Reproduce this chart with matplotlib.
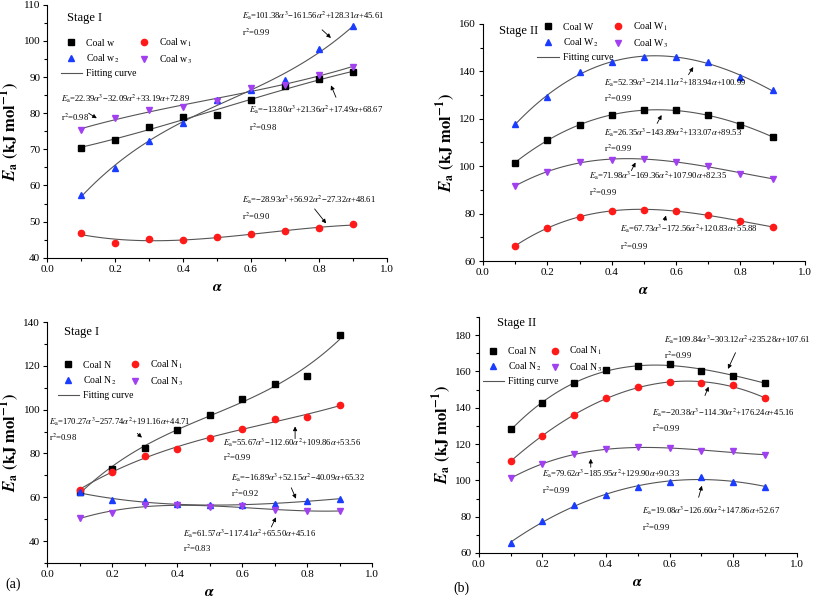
import numpy as np
import matplotlib
matplotlib.use('Agg')
import matplotlib.pyplot as plt
from matplotlib.ticker import MultipleLocator, FormatStrFormatter
from matplotlib.lines import Line2D

plt.rcParams['font.family'] = ['Liberation Serif', 'DejaVu Serif']
plt.rcParams['mathtext.fontset'] = 'stix'

# conversion degree
alpha = [0.1, 0.2, 0.3, 0.4, 0.5, 0.6, 0.7, 0.8, 0.9]

# Stage I, coal w series
w_s1 = [70.5, 72.6, 76.2, 78.9, 79.4, 83.6, 87.5, 89.4, 91.3]
w1_s1 = [46.8, 44.2, 45.2, 45.0, 45.7, 46.5, 47.4, 48.2, 49.2]
w2_s1 = [57.3, 64.9, 72.3, 77.4, 83.6, 86.5, 89.3, 97.8, 104.0]
w3_s1 = [75.4, 78.6, 81.0, 81.6, 83.3, 86.9, 87.9, 90.5, 92.8]

# Stage II, coal W series
w_s2 = [101.5, 111.1, 117.2, 121.5, 123.9, 123.5, 121.4, 117.5, 112.4]
w1_s2 = [66.3, 74.0, 78.7, 81.1, 81.5, 81.3, 79.3, 76.8, 74.4]
w2_s2 = [117.9, 129.0, 139.6, 143.9, 146.1, 146.1, 143.9, 137.5, 132.0]
w3_s2 = [91.7, 97.5, 101.8, 102.5, 103.2, 101.8, 99.9, 96.9, 94.8]

# Stage I, coal N series
n_s1 = [62.6, 72.9, 82.7, 90.9, 97.7, 105.0, 111.9, 115.4, 134.1]
n1_s1 = [63.5, 71.5, 78.9, 82.1, 86.9, 91.0, 95.9, 96.7, 102.1]
n2_s1 = [62.3, 58.7, 58.2, 57.0, 56.4, 56.7, 57.0, 58.2, 59.4]
n3_s1 = [50.6, 52.9, 56.5, 56.4, 55.6, 55.8, 54.2, 53.8, 53.8]

# Stage II, coal N series
n_s2 = [128.1, 142.4, 153.4, 160.8, 162.8, 164.2, 160.4, 157.6, 153.8]
n1_s2 = [110.6, 124.5, 135.8, 145.4, 151.3, 154.1, 153.5, 152.3, 145.2]
n2_s2 = [65.5, 77.6, 86.2, 91.7, 96.6, 99.2, 101.6, 99.2, 96.5]
n3_s2 = [101.2, 108.9, 114.4, 117.0, 118.3, 117.9, 115.9, 116.1, 113.9]

# fitted equations printed on the chart
eq_w_s1 = ['$E_{\\rm a}$=22.39$\\alpha^3$\u221232.09$\\alpha^2$+33.19$\\alpha$+72.89',
           '$E_{\\rm a}$=\u221213.80$\\alpha^3$+21.36$\\alpha^2$+17.49$\\alpha$+68.67',
           '$E_{\\rm a}$=101.38$\\alpha^3$\u2212161.56$\\alpha^2$+128.31$\\alpha$+45.61',
           '$E_{\\rm a}$=\u221228.93$\\alpha^3$+56.92$\\alpha^2$\u221227.32$\\alpha$+48.61']
r2_w_s1 = ['0.98', '0.98', '0.99', '0.90']
eq_w_s2 = ['$E_{\\rm a}$=52.39$\\alpha^3$\u2212214.11$\\alpha^2$+183.94$\\alpha$+100.99',
           '$E_{\\rm a}$=26.35$\\alpha^3$\u2212143.89$\\alpha^2$+133.07$\\alpha$+89.53',
           '$E_{\\rm a}$=71.98$\\alpha^3$\u2212169.36$\\alpha^2$+107.90$\\alpha$+82.35',
           '$E_{\\rm a}$=67.73$\\alpha^3$\u2212172.56$\\alpha^2$+120.83$\\alpha$+55.88']
r2_w_s2 = ['0.99', '0.99', '0.99', '0.99']
eq_n_s1 = ['$E_{\\rm a}$=170.27$\\alpha^3$\u2212257.74$\\alpha^2$+191.16$\\alpha$+44.71',
           '$E_{\\rm a}$=55.67$\\alpha^3$\u2212112.60$\\alpha^2$+109.86$\\alpha$+53.56',
           '$E_{\\rm a}$=\u221216.89$\\alpha^3$+52.15$\\alpha^2$\u221240.09$\\alpha$+65.32',
           '$E_{\\rm a}$=61.57$\\alpha^3$\u2212117.41$\\alpha^2$+65.50$\\alpha$+45.16']
r2_n_s1 = ['0.98', '0.99', '0.92', '0.83']
eq_n_s2 = ['$E_{\\rm a}$=109.84$\\alpha^3$\u2212303.12$\\alpha^2$+235.28$\\alpha$+107.61',
           '$E_{\\rm a}$=\u221220.38$\\alpha^3$\u2212114.30$\\alpha^2$+176.24$\\alpha$+45.16',
           '$E_{\\rm a}$=79.62$\\alpha^3$\u2212185.95$\\alpha^2$+129.90$\\alpha$+90.33',
           '$E_{\\rm a}$=19.08$\\alpha^3$\u2212126.60$\\alpha^2$+147.86$\\alpha$+52.67']
r2_n_s2 = ['0.99', '0.99', '0.99', '0.99']

cores = ['black', '#ff1a1a', '#1a3cff', '#a040f0']
marcadores = ['s', 'o', '^', 'v']
cor_fit = '#555555'

fig = plt.figure(figsize=(8.13, 5.98), dpi=100)


def painel(pos, series, nomes, ylim, ymaj, ymin, estagio, est_pos, eqs, r2s, eq_pos, setas, leg_pos, colsp):
    ax = fig.add_axes(pos)
    xs = np.linspace(0.1, 0.9, 100)
    for s, c, m in zip(series, cores, marcadores):
        coef = np.polyfit(alpha, s, 3)
        ax.plot(xs, np.polyval(coef, xs), color=cor_fit, lw=0.8, zorder=2)
        ax.plot(alpha, s, ls='none', marker=m, color=c, ms=4.5, zorder=3)
    ax.set_xlim(0, 1.0)
    ax.set_ylim(*ylim)
    ax.xaxis.set_major_locator(MultipleLocator(0.2))
    ax.xaxis.set_minor_locator(MultipleLocator(0.1))
    ax.yaxis.set_major_locator(MultipleLocator(ymaj))
    ax.yaxis.set_minor_locator(MultipleLocator(ymin))
    ax.xaxis.set_major_formatter(FormatStrFormatter('%.1f'))
    ax.tick_params(which='major', direction='out', length=3, width=0.8, labelsize=8, pad=2)
    ax.tick_params(which='minor', direction='out', length=2, width=0.8)
    for lado in ['top', 'right']:
        ax.spines[lado].set_visible(False)
    ax.set_xlabel('$\\mathbfit{\\alpha}$', fontsize=11, labelpad=5)
    ax.set_ylabel('$\\mathbfit{E}_\\mathbf{a}$ $\\mathbf{(kJ\\ mol^{-1})}$', fontsize=12, labelpad=1)
    ax.text(est_pos[0], est_pos[1], estagio, transform=ax.transAxes, fontsize=9, va='center')

    # legenda em duas colunas
    hs = [Line2D([], [], ls='none', marker=m, color=c, ms=4.5) for c, m in zip(cores, marcadores)]
    hfit = Line2D([], [], color=cor_fit, lw=0.8)
    handles = [hs[0], hs[2], hfit, hs[1], hs[3]]
    labels = [nomes[0], nomes[2], 'Fitting curve', nomes[1], nomes[3]]
    ax.legend(handles, labels, ncol=2, loc='upper left', bbox_to_anchor=leg_pos,
              frameon=False, fontsize=7, handlelength=2.2, handletextpad=0.4,
              columnspacing=colsp, labelspacing=0.45, borderaxespad=0, borderpad=0.4)

    for eq, r2, p, (t, h) in zip(eqs, r2s, eq_pos, setas):
        ax.text(p[0], p[1], eq, fontsize=6.2, va='center', ha='left')
        ax.text(p[0], p[2], 'r$^2$=' + r2, fontsize=6.2, va='center', ha='left')
        ax.annotate('', xy=h, xytext=t,
                    arrowprops=dict(arrowstyle='-|>', color='black', lw=0.6, mutation_scale=6))
    return ax


painel([0.058, 0.569, 0.418, 0.423], [w_s1, w1_s1, w2_s1, w3_s1],
       ['Coal w', 'Coal w$_1$', 'Coal w$_2$', 'Coal w$_3$'],
       (40, 110), 10, 5, 'Stage I', (0.059, 0.949),
       eq_w_s1, r2_w_s1,
       [(0.041, 84.0, 79.0), (0.594, 80.95, 76.2), (0.574, 106.96, 102.25), (0.574, 56.0, 51.6)],
       [((0.115, 80.4), (0.153, 78.2)), ((0.853, 83.7), (0.832, 88.4)),
        ((0.803, 103.6), (0.841, 100.3)), ((0.782, 54.1), (0.826, 48.9))],
       (0.028, 0.889), -0.3)

painel([0.594, 0.5635, 0.396, 0.3965], [w_s2, w1_s2, w2_s2, w3_s2],
       ['Coal W', 'Coal W$_1$', 'Coal W$_2$', 'Coal W$_3$'],
       (60, 160), 20, 10, 'Stage II', (0.05, 0.97),
       eq_w_s2, r2_w_s2,
       [(0.376, 135.1, 128.8), (0.376, 114.0, 107.7), (0.329, 95.9, 89.1), (0.425, 73.5, 66.3)],
       [((0.634, 137.6), (0.658, 142.8)), ((0.537, 117.0), (0.559, 122.6)),
        ((0.457, 97.1), (0.478, 102.6)), ((0.562, 76.0), (0.571, 80.3))],
       (0.157, 1.03), -0.6)

painel([0.058, 0.0585, 0.3997, 0.403], [n_s1, n1_s1, n2_s1, n3_s1],
       ['Coal N', 'Coal N$_1$', 'Coal N$_2$', 'Coal N$_3$'],
       (30, 140), 20, 10, 'Stage I', (0.052, 0.958),
       eq_n_s1, r2_n_s1,
       [(0.006, 94.6, 87.3), (0.542, 85.0, 78.2), (0.566, 69.1, 61.8), (0.418, 43.6, 36.7)],
       [((0.271, 90.0), (0.298, 86.4)), ((0.763, 85.5), (0.763, 93.6)),
        ((0.748, 65.5), (0.769, 58.2)), ((0.686, 45.3), (0.708, 52.0))],
       (0.02, 0.864), -0.9)

painel([0.589, 0.0753, 0.391, 0.3947], [n_s2, n1_s2, n2_s2, n3_s2],
       ['Coal N', 'Coal N$_1$', 'Coal N$_2$', 'Coal N$_3$'],
       (60, 190), 20, 10, 'Stage II', (0.057, 0.975),
       eq_n_s2, r2_n_s2,
       [(0.583, 177.2, 169.0), (0.544, 137.1, 128.8), (0.198, 103.5, 94.7), (0.513, 83.1, 74.3)],
       [((0.811, 171.7), (0.780, 160.0)), ((0.708, 145.3), (0.726, 153.0)),
        ((0.352, 105.7), (0.352, 113.4)), ((0.689, 89.2), (0.704, 98.5))],
       (0.0, 0.898), -1.5)

fig.text(0.006, 1 - 584 / 598, '(a)', fontsize=10, va='center')
fig.text(453 / 813, 1 - 588 / 598, '(b)', fontsize=10, va='center')

fig.savefig('out.png', dpi=100)
